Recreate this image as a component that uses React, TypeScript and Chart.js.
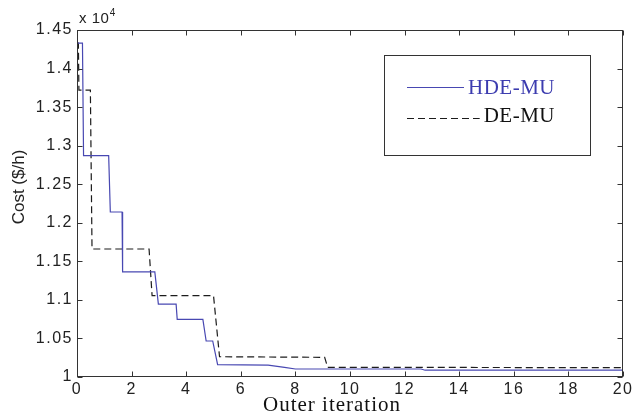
import { useEffect, useRef } from 'react';
import { Chart, registerables } from 'chart.js';

Chart.register(...registerables);

// Outer iteration (x) and cost in $/h (y), corner points of each convergence curve
const hdeIter = [0, 0.2, 0.24, 1.16, 1.22, 1.65, 1.67, 2.85, 2.98, 3.63, 3.67, 4.61, 4.73, 4.97, 5.15, 7.0, 7.6, 8.0, 12.6, 12.75, 20];
const hdeCost = [14330, 14330, 12870, 12870, 12140, 12140, 11362, 11362, 10945, 10945, 10748, 10748, 10467, 10467, 10160, 10155, 10125, 10104, 10104, 10088, 10088];

const deIter = [0, 0.05, 0.07, 0.49, 0.55, 2.64, 2.75, 5.0, 5.22, 9.07, 9.18, 20];
const deCost = [14330, 14330, 13720, 13720, 11660, 11660, 11054, 11054, 10263, 10255, 10126, 10121];

const seriesLabels = ['HDE-MU', 'DE-MU'];
const xTitle = 'Outer iteration';
const yTitle = 'Cost ($/h)';
const xMin = 0, xMax = 20, xStep = 2;
const yMin = 10000, yMax = 14500, yStep = 500;
const yScaleExp = 4;

const BLUE = 'rgb(72,72,178)';
const BLACK = '#1c1c1c';
const AXIS = '#333333';

const framePlugin = {
  id: 'matlabFrame',
  beforeDraw(chart: any) {
    chart.ctx.letterSpacing = '1.5px';
  },
  afterDraw(chart: any) {
    const ctx = chart.ctx as CanvasRenderingContext2D;
    const { left, top, right, bottom } = chart.chartArea;
    ctx.save();
    (ctx as any).letterSpacing = '0px';
    ctx.strokeStyle = AXIS;
    ctx.lineWidth = 1;
    ctx.setLineDash([]);
    const L = Math.round(left) + 0.5, T = Math.round(top) + 0.5;
    const R = Math.round(right) - 0.5, B = Math.round(bottom) - 0.5;
    ctx.strokeRect(L, T, R - L, B - T);
    const tl = 5;
    ctx.beginPath();
    chart.scales.x.ticks.forEach((t: any) => {
      const p = Math.round(chart.scales.x.getPixelForValue(t.value)) + 0.5;
      ctx.moveTo(p, B); ctx.lineTo(p, B - tl);
      ctx.moveTo(p, T); ctx.lineTo(p, T + tl);
    });
    chart.scales.y.ticks.forEach((t: any) => {
      const p = Math.round(chart.scales.y.getPixelForValue(t.value)) + 0.5;
      ctx.moveTo(L, p); ctx.lineTo(L + tl, p);
      ctx.moveTo(R, p); ctx.lineTo(R - tl, p);
    });
    ctx.stroke();

    // exponent label
    ctx.fillStyle = '#222';
    ctx.font = '15px "Liberation Sans", Arial, sans-serif';
    ctx.textAlign = 'left';
    ctx.textBaseline = 'alphabetic';
    (ctx as any).letterSpacing = '0.5px';
    const base = 'x 10';
    ctx.fillText(base, left + 2, 23);
    const w = ctx.measureText(base).width;
    ctx.font = '10px "Liberation Sans", Arial, sans-serif';
    ctx.fillText(String(yScaleExp), left + 2 + w + 0.5, 16);

    // axis titles
    ctx.font = '21px "Liberation Serif", "Times New Roman", serif';
    (ctx as any).letterSpacing = '1px';
    ctx.textAlign = 'center';
    ctx.fillStyle = '#111';
    ctx.fillText(xTitle, 332, 411);

    ctx.save();
    ctx.translate(24, 187);
    ctx.rotate(-Math.PI / 2);
    ctx.font = '17px "Liberation Sans", Arial, sans-serif';
    (ctx as any).letterSpacing = '0px';
    ctx.fillStyle = '#222';
    ctx.fillText(yTitle, 0, 0);
    ctx.restore();

    // legend box
    const bx = 384.5, by = 55.5, bw = 206, bh = 100;
    ctx.fillStyle = '#fff';
    ctx.fillRect(bx, by, bw, bh);
    ctx.strokeStyle = AXIS;
    ctx.strokeRect(bx, by, bw, bh);
    ctx.font = '21px "Liberation Serif", "Times New Roman", serif';
    (ctx as any).letterSpacing = '0.5px';
    ctx.textAlign = 'right';
    const textRight = 555;
    const baselines = [94, 122];
    const lineYs = [87.5, 118.5];
    chart.data.datasets.forEach((ds: any, i: number) => {
      const tw = ctx.measureText(ds.label).width;
      ctx.strokeStyle = ds.borderColor;
      ctx.lineWidth = 1;
      ctx.setLineDash(ds.borderDash || []);
      ctx.beginPath();
      ctx.moveTo(407, lineYs[i]);
      ctx.lineTo(textRight - tw - 4, lineYs[i]);
      ctx.stroke();
      ctx.setLineDash([]);
      ctx.fillStyle = ds.legendTextColor || ds.borderColor;
      ctx.fillText(ds.label, textRight, baselines[i]);
    });
    ctx.restore();
  },
};

export default function App() {
  const ref = useRef<HTMLCanvasElement>(null);
  useEffect(() => {
    if (!ref.current) return;
    const chart = new Chart(ref.current, {
      type: 'line',
      data: {
        datasets: [
          {
            label: seriesLabels[0],
            data: hdeIter.map((x, i) => ({ x, y: hdeCost[i] })),
            borderColor: BLUE,
            legendTextColor: 'rgb(60,60,175)',
            borderWidth: 1.2,
            pointRadius: 0,
            tension: 0,
            fill: false,
          } as any,
          {
            label: seriesLabels[1],
            data: deIter.map((x, i) => ({ x, y: deCost[i] })),
            borderColor: BLACK,
            legendTextColor: '#111',
            borderDash: [7, 4],
            borderWidth: 1.2,
            pointRadius: 0,
            tension: 0,
            fill: false,
          } as any,
        ],
      },
      options: {
        responsive: false,
        animation: false,
        maintainAspectRatio: false,
        layout: { padding: { top: 30, right: 11, left: 0, bottom: 0 } },
        plugins: { legend: { display: false }, tooltip: { enabled: false } },
        scales: {
          x: {
            type: 'linear',
            min: xMin,
            max: xMax,
            ticks: {
              stepSize: xStep,
              padding: 3,
              color: '#222',
              font: { family: '"Liberation Sans", Arial, sans-serif', size: 16, lineHeight: 1.2 },
              maxRotation: 0,
            },
            grid: { display: false, drawTicks: false },
            border: { display: false },
            afterFit: (s: any) => { s.height = 40; },
          },
          y: {
            type: 'linear',
            min: yMin,
            max: yMax,
            ticks: {
              stepSize: yStep,
              padding: 4,
              color: '#222',
              font: { family: '"Liberation Sans", Arial, sans-serif', size: 16 },
              callback: (v: any) => String(parseFloat((Number(v) / Math.pow(10, yScaleExp)).toFixed(2))),
            },
            grid: { display: false, drawTicks: false },
            border: { display: false },
            afterFit: (s: any) => { s.width = 77; },
          },
        },
      },
      plugins: [framePlugin],
    });
    return () => chart.destroy();
  }, []);
  return (
    <div style={{ position: 'absolute', left: 0, top: 0, width: 635, height: 417, background: '#fff' }}>
      <canvas ref={ref} width={635} height={417} style={{ display: 'block', width: 635, height: 417 }} />
    </div>
  );
}
